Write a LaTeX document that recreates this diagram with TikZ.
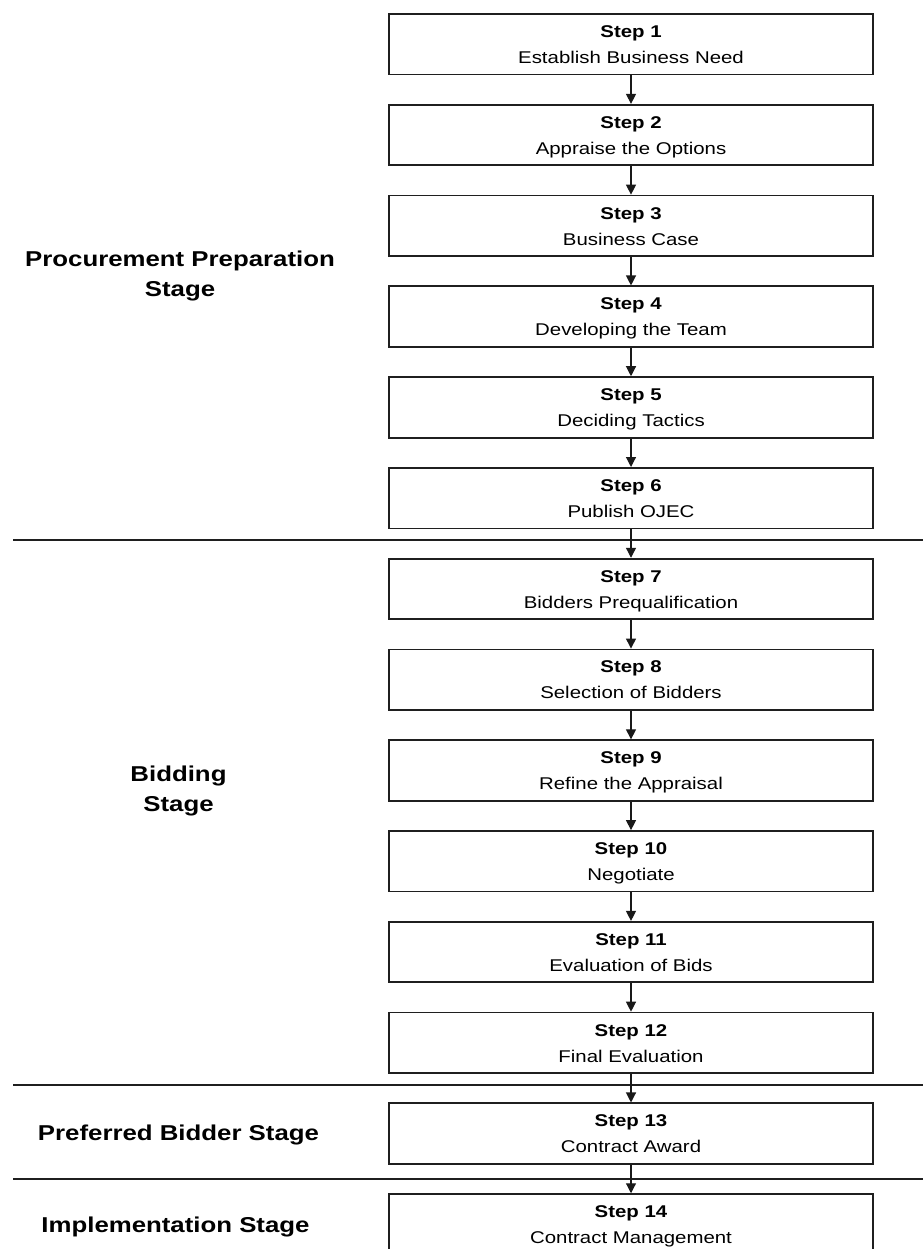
\documentclass[tikz,border=0pt]{standalone}
\usepackage{fontspec}
\setmainfont{Liberation Sans}[FakeStretch=1.2]
\usetikzlibrary{arrows.meta}

\tikzset{
  stepbox/.style={draw=black!88, line width=1.8pt, fill=white,
    minimum width=484pt, minimum height=60.5pt, inner sep=0pt,
    align=center, font=\fontsize{17}{26}\selectfont},
  flow/.style={draw=black!90, line width=1.2pt,
    -{Triangle[length=10pt,width=10pt]}},
  stagesep/.style={draw=black!88, line width=1.7pt},
  stagelabel/.style={inner sep=0pt, align=center,
    font=\bfseries\fontsize{21.5}{30}\selectfont}
}

\begin{document}
\begin{tikzpicture}[x=1pt,y=-1pt]
  % page frame
  \useasboundingbox (0,0) rectangle (923,1249);
  \clip (0,0) rectangle (923,1249);
  \fill[white] (0,0) rectangle (923,1249);

  % stage separators
  \coordinate (sepA-l) at (13,540);   \coordinate (sepA-r) at (923,540);
  \coordinate (sepB-l) at (13,1085);  \coordinate (sepB-r) at (923,1085);
  \coordinate (sepC-l) at (13,1179);  \coordinate (sepC-r) at (923,1179);
  \draw[stagesep] (sepA-l) -- (sepA-r);
  \draw[stagesep] (sepB-l) -- (sepB-r);
  \draw[stagesep] (sepC-l) -- (sepC-r);

  % stage labels
  \node[stagelabel, anchor=north] (stPrep) at (180,250.6)
    {Procurement Preparation\\Stage};
  \node[stagelabel, anchor=north] (stBid) at (178.5,766)
    {Bidding\\Stage};
  \node[stagelabel, anchor=base] (stPref) at (178.5,1140.7)
    {Preferred Bidder Stage};
  \node[stagelabel, anchor=base] (stImpl) at (175.5,1232.7)
    {Implementation Stage};

  % process steps
  \foreach \k/\t in {1/Establish Business Need, 2/Appraise the Options,
      3/Business Case, 4/Developing the Team, 5/Deciding Tactics,
      6/Publish OJEC, 7/Bidders Prequalification, 8/Selection of Bidders,
      9/Refine the Appraisal, 10/Negotiate, 11/Evaluation of Bids,
      12/Final Evaluation, 13/Contract Award, 14/Contract Management}{
    \pgfmathsetmacro\yc{44.25+(\k-1)*90.78}
    \node[stepbox] (s\k) at (631,\yc)
      {\rule{0pt}{16pt}\textbf{Step \k}\\ \t\vphantom{g}};
  }

  % flow between steps
  \foreach \a/\b in {1/2,2/3,3/4,4/5,5/6,6/7,7/8,8/9,9/10,10/11,11/12,12/13,13/14}{
    \draw[flow] (s\a) -- (s\b);
  }
\end{tikzpicture}
\end{document}
